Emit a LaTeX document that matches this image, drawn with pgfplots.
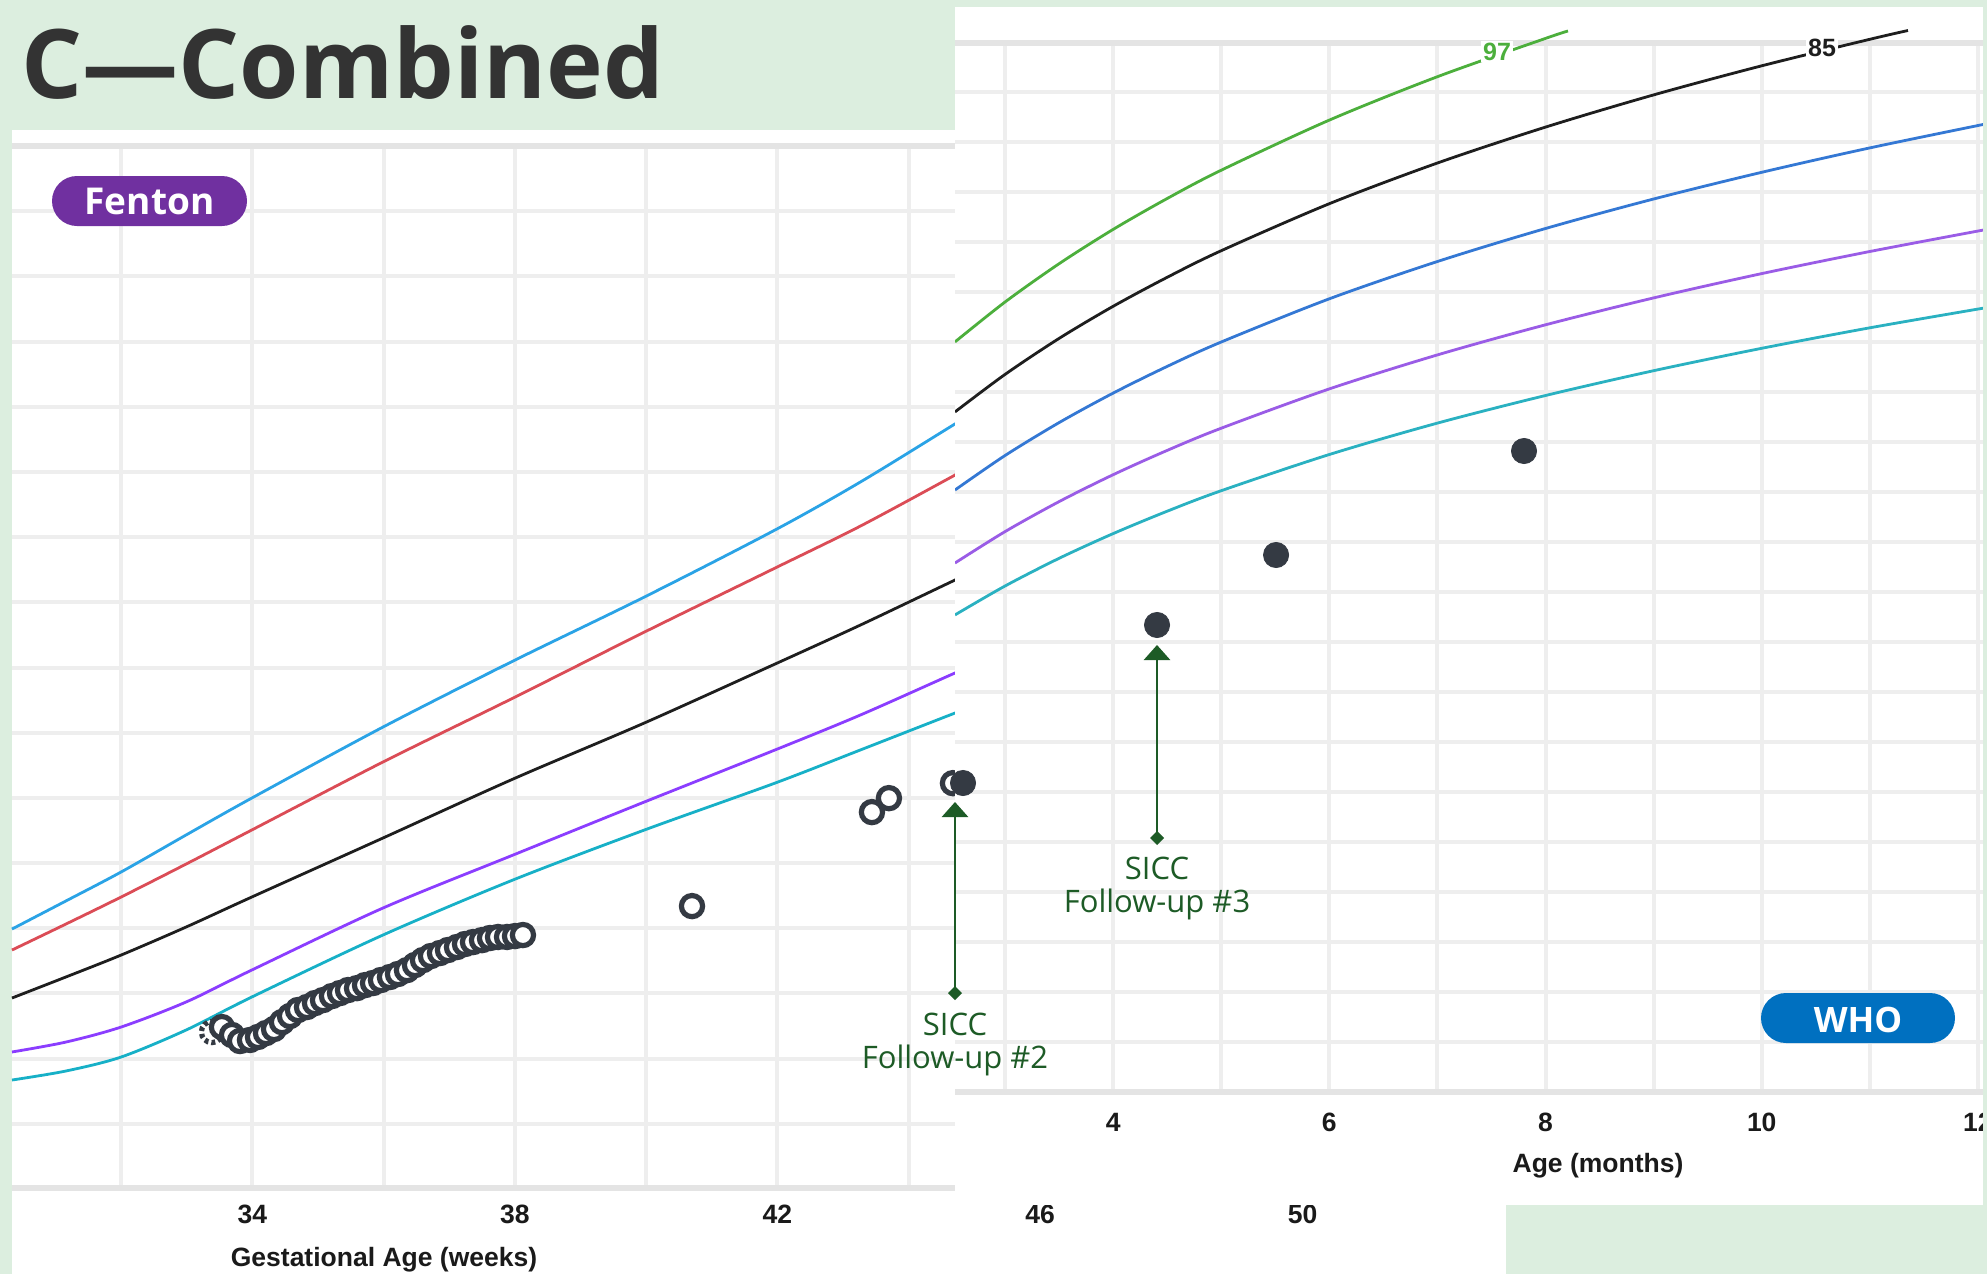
\documentclass[border=0pt]{standalone}
\usepackage{fontspec}
\setmainfont{Open Sans}
\newfontfamily\arialf{Liberation Sans}
\usepackage{pgfplots}
\pgfplotsset{compat=1.18}
\usetikzlibrary{arrows.meta}
\definecolor{bg}{HTML}{DCEEDF}
\definecolor{gridc}{HTML}{EEEEEE}
\definecolor{gridthick}{HTML}{E4E4E4}
\definecolor{tickc}{HTML}{1A1A1A}
\definecolor{titlec}{HTML}{333333}
\definecolor{fblue}{HTML}{2AA3E6}
\definecolor{fred}{HTML}{DB4C56}
\definecolor{fblack}{HTML}{1E1E1E}
\definecolor{fpurp}{HTML}{8B3DFF}
\definecolor{fcyan}{HTML}{17B0C7}
\definecolor{wgreen}{HTML}{4CAF3C}
\definecolor{wblue}{HTML}{3478D4}
\definecolor{wpurp}{HTML}{9A5CE6}
\definecolor{wcyan}{HTML}{2AB1C1}
\definecolor{dotc}{HTML}{343A43}
\definecolor{sicc}{HTML}{1D5B26}
\definecolor{fentonbadge}{HTML}{7030A0}
\definecolor{whobadge}{HTML}{0070C0}
\newcommand{\tickf}{\arialf\bfseries\fontsize{13.25}{15}\selectfont}
\begin{document}
\begin{tikzpicture}
\begin{scope}[x=0.5pt,y=-0.5pt]
\fill[bg] (0,0) rectangle (1987,1274);
\fill[white] (12,130) rectangle (1506,1274);
\end{scope}
% ---------------- Fenton ----------------
\begin{axis}[at={(6pt,-594.5pt)}, anchor=south west, scale only axis,
  width=747pt, height=521.5pt,
  xmin=30.34, xmax=53.097, ymin=0, ymax=8,
  xtick={32,34,...,52}, xticklabels={,34,,38,,42,,46,,50,},
  ytick={0,0.5,...,8}, yticklabels={},
  grid=major, major grid style={line width=2pt,color=gridc},
  axis line style={draw=none}, tick style={draw=none},
  xticklabel style={font=\tickf, anchor=base, yshift=-17.25pt, inner sep=0pt, text=tickc},
  clip=false]
\addplot[smooth, line width=1.4pt, color=fblue] coordinates {(30.34,1.994) (31.16,2.209) (32.00,2.431) (32.99,2.715) (33.99,2.998) (35.99,3.543) (37.97,4.049) (39.97,4.540) (41.96,5.054) (43.26,5.422) (44.70,5.867) (45.00,5.958)};
\addplot[smooth, line width=1.4pt, color=fred] coordinates {(30.34,1.833) (31.16,2.032) (32.00,2.239) (32.99,2.492) (33.99,2.753) (35.99,3.275) (37.97,3.765) (39.97,4.271) (41.96,4.762) (43.26,5.084) (44.70,5.475) (45.00,5.560)};
\addplot[smooth, line width=1.4pt, color=fblack] coordinates {(30.34,1.465) (31.16,1.626) (32.00,1.794) (32.99,2.009) (33.99,2.239) (35.99,2.692) (37.97,3.144) (39.97,3.574) (41.96,4.026) (43.26,4.325) (44.70,4.670) (45.00,4.739)};
\addplot[smooth, line width=1.4pt, color=fpurp] coordinates {(30.34,1.051) (31.16,1.127) (32.00,1.242) (32.99,1.434) (33.99,1.679) (35.99,2.155) (37.97,2.561) (39.97,2.968) (41.96,3.367) (43.26,3.635) (44.70,3.957) (45.00,4.018)};
\addplot[smooth, line width=1.4pt, color=fcyan] coordinates {(30.34,0.836) (31.16,0.905) (32.00,1.012) (32.99,1.219) (33.99,1.472) (35.99,1.948) (37.97,2.370) (39.97,2.753) (41.96,3.113) (43.26,3.367) (44.70,3.650) (45.00,3.704)};
\addplot[only marks, mark=*, mark size=5.3pt, mark options={fill=white, draw=dotc, line width=2.6pt, dash pattern=on 2pt off 1.5pt}] coordinates {(33.386,1.204)};
\addplot[only marks, mark=*, mark size=5.3pt, mark options={fill=white, draw=dotc, line width=2.6pt}] coordinates {
(33.538,1.242) (33.691,1.181) (33.813,1.135) (33.965,1.143) (34.087,1.166) (34.209,1.196) (34.331,1.227) (34.452,1.280) (34.574,1.327) (34.696,1.373) (34.833,1.396) (34.955,1.426) (35.077,1.449) (35.214,1.480) (35.336,1.503) (35.458,1.526) (35.595,1.541) (35.717,1.564) (35.839,1.580) (35.960,1.603) (36.097,1.626) (36.219,1.649) (36.356,1.679) (36.478,1.718) (36.600,1.756) (36.722,1.787) (36.859,1.810) (36.981,1.833) (37.118,1.856) (37.240,1.879) (37.362,1.894) (37.499,1.909) (37.621,1.925) (37.743,1.933) (37.880,1.933) (38.002,1.940) (38.123,1.948)
(40.698,2.170) (43.439,2.891) (43.698,2.998) (44.673,3.113)};
\end{axis}
\begin{scope}[x=0.5pt,y=-0.5pt]
\draw[gridthick, line width=3pt] (12,146) -- (1506,146);
\draw[gridthick, line width=3pt] (12,1188) -- (1506,1188);
\node[font=\tickf, text=tickc, anchor=base, inner sep=0pt] at (384,1266) {Gestational Age (weeks)};
\fill[white] (955,7) rectangle (1983,1205);
\end{scope}
% ---------------- WHO grid ----------------
\begin{axis}[at={(477.5pt,-546pt)}, anchor=south west, scale only axis,
  width=514pt, height=525pt,
  xmin=2.537, xmax=12.047, ymin=0, ymax=10.5,
  xtick={3,...,12}, xticklabels={,4,,6,,8,,10,,12},
  ytick={0,0.5,...,10.5}, yticklabels={},
  grid=major, major grid style={line width=2pt,color=gridc},
  axis line style={draw=none}, tick style={draw=none},
  xticklabel style={font=\tickf, anchor=base, yshift=-19.5pt, inner sep=0pt, text=tickc}]
\addplot[draw=none] coordinates {(5,5)};
\end{axis}
\begin{scope}[x=0.5pt,y=-0.5pt]
\draw[gridthick, line width=3pt] (955,43) -- (1983,43);
\draw[gridthick, line width=3pt] (955,1092) -- (1983,1092);
\node[font=\tickf, text=tickc, anchor=base, inner sep=0pt] at (1598,1172) {Age (months)};
\end{scope}
% ---------------- WHO data ----------------
\begin{axis}[at={(477.5pt,-546pt)}, anchor=south west, scale only axis,
  width=514pt, height=542.5pt,
  xmin=2.537, xmax=12.047, ymin=0, ymax=10.85, hide axis, clip=true]
\addplot[smooth, line width=1.4pt, color=wgreen] coordinates {(2.537,7.501) (3,7.900) (3.5,8.283) (4,8.626) (4.5,8.935) (5,9.218) (6,9.719) (7,10.153) (8,10.536) (8.208,10.610)};
\addplot[smooth, line width=1.4pt, color=fblack] coordinates {(2.537,6.801) (3,7.176) (3.5,7.536) (4,7.857) (4.5,8.147) (5,8.413) (6,8.883) (7,9.290) (8,9.649) (9,9.971) (10,10.262) (11,10.527) (11.353,10.615)};
\addplot[smooth, line width=1.4pt, color=wblue] coordinates {(2.537,6.020) (3,6.365) (3.5,6.694) (4,6.989) (4.5,7.256) (5,7.500) (6,7.932) (7,8.305) (8,8.635) (9,8.930) (10,9.197) (11,9.441) (12.047,9.675)};
\addplot[smooth, line width=1.4pt, color=wpurp] coordinates {(2.537,5.290) (3,5.604) (3.5,5.904) (4,6.173) (4.5,6.416) (5,6.638) (6,7.031) (7,7.371) (8,7.672) (9,7.941) (10,8.184) (11,8.405) (12.047,8.619)};
\addplot[smooth, line width=1.4pt, color=wcyan] coordinates {(2.537,4.771) (3,5.060) (3.5,5.337) (4,5.584) (4.5,5.808) (5,6.013) (6,6.375) (7,6.689) (8,6.965) (9,7.213) (10,7.437) (11,7.642) (12.047,7.838)};
\addplot[only marks, mark=*, mark size=6.3pt, color=dotc] coordinates {(2.611,3.09) (4.406,4.67) (5.507,5.37) (7.801,6.41)};
\end{axis}
% ---------------- annotations ----------------
\begin{scope}[x=0.5pt,y=-0.5pt]
\node[font=\bfseries\fontsize{48}{52}\selectfont, text=titlec, anchor=base west, inner sep=0pt] at (21,98) {C—Combined};
\fill[fentonbadge, rounded corners=12.5pt] (52,176) rectangle (247,226);
\node[font=\bfseries\fontsize{18.5}{20}\selectfont, text=white, anchor=base, inner sep=0pt] at (149.5,214) {Fenton};
\fill[whobadge, rounded corners=12.5pt] (1761,993) rectangle (1955,1043);
\node[font=\bfseries\fontsize{17.5}{20}\selectfont, text=white, anchor=base, inner sep=0pt] at (1858,1032) {WHO};
\node[font=\arialf\bfseries\fontsize{12.5}{14}\selectfont, text=wgreen, fill=white, inner sep=1pt] at (1497,51.5) {97};
\node[font=\arialf\bfseries\fontsize{12.5}{14}\selectfont, text=fblack, fill=white, inner sep=1pt] at (1822,47.5) {85};
\draw[sicc, line width=1.35pt, {Diamond[length=7pt,width=7pt]}-{Triangle[length=7.5pt,width=13pt]}] (955,1000) -- (955,802);
\draw[sicc, line width=1.35pt, {Diamond[length=7pt,width=7pt]}-{Triangle[length=7.5pt,width=13pt]}] (1157,845) -- (1157,645);
\node[font=\fontsize{15.5}{17}\selectfont, text=sicc, anchor=base, inner sep=0pt] at (955,1035) {SICC};
\node[font=\fontsize{15.5}{17}\selectfont, text=sicc, anchor=base, inner sep=0pt] at (955,1068) {Follow-up \#2};
\node[font=\fontsize{15.5}{17}\selectfont, text=sicc, anchor=base, inner sep=0pt] at (1157,879) {SICC};
\node[font=\fontsize{15.5}{17}\selectfont, text=sicc, anchor=base, inner sep=0pt] at (1157,912) {Follow-up \#3};
\fill[bg] (1983,0) rectangle (1987,1274);
\fill[bg] (1506,1205) rectangle (1987,1274);
\pgfresetboundingbox
\useasboundingbox (0,0) rectangle (1987,1274);
\end{scope}
\end{tikzpicture}
\end{document}
